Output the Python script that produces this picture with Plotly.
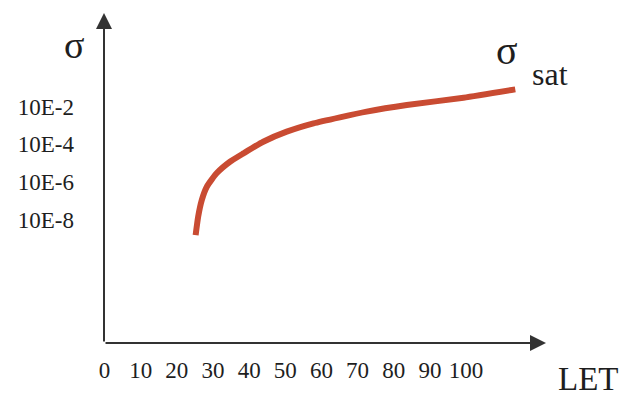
import plotly.graph_objects as go

# Single-event cross section vs LET (Weibull-like saturation curve)
let_values = [25.2, 25.9, 26.9, 28.3, 31.0, 34.7, 38.4, 43.9, 50.4, 57.8,
              65.1, 72.5, 83.6, 99.3, 113.6]
sigma_values = [1.58e-9, 1.48e-8, 1.12e-7, 5.75e-7, 2.95e-6, 1.20e-5, 3.31e-5,
                1.38e-4, 4.68e-4, 1.29e-3, 2.69e-3, 5.37e-3, 1.20e-2, 2.95e-2,
                8.13e-2]

x_ticks = [0, 10, 20, 30, 40, 50, 60, 70, 80, 90, 100]
y_tick_vals = [1e-2, 1e-4, 1e-6, 1e-8]
y_tick_text = ["10E-2", "10E-4", "10E-6", "10E-8"]

serif = "Liberation Serif, Times New Roman, serif"
ink = "#1e1e1e"
axis_col = "#333333"
curve_col = "#C94B32"

fig = go.Figure()
fig.add_trace(go.Scatter(
    x=let_values, y=sigma_values, mode="lines",
    line=dict(color=curve_col, width=6, shape="spline", smoothing=0.5),
    hoverinfo="skip", showlegend=False, cliponaxis=False,
))

fig.update_layout(
    width=627, height=399,
    margin=dict(l=104, r=81, t=13, b=56),
    paper_bgcolor="white", plot_bgcolor="white",
    xaxis=dict(
        range=[-0.14, 122.1], tickvals=x_ticks, ticks="",
        showgrid=False, zeroline=False, showline=False,
        tickfont=dict(family=serif, size=23, color=ink),
        ticklabelstandoff=11,
    ),
    yaxis=dict(
        type="log", range=[-14.51, 2.95],
        tickvals=y_tick_vals, ticktext=y_tick_text, ticks="",
        showgrid=False, zeroline=False, showline=False,
        tickfont=dict(family=serif, size=23, color=ink),
        ticklabelstandoff=29,
    ),
)

# Axis lines with arrowheads
arrow_style = dict(showarrow=True, arrowhead=2, arrowsize=1.6, arrowwidth=2,
                   arrowcolor=axis_col, text="", xref="paper", yref="paper")
fig.add_annotation(x=0, y=1, ax=0, ay=330, **arrow_style)
fig.add_annotation(x=1, y=0, ax=-442, ay=0, **arrow_style)

# Axis titles and saturation label
def px_to_paper(px, py):
    return (px - 104) / 442, 1 - (py - 13) / 330

for text, px, py, size in [("σ", 74, 45, 38), ("LET", 588, 379, 33),
                           ("σ", 507, 51, 40), ("sat", 550, 74, 32)]:
    xp, yp = px_to_paper(px, py)
    fig.add_annotation(x=xp, y=yp, xref="paper", yref="paper", text=text,
                       showarrow=False, xanchor="center", yanchor="middle",
                       font=dict(family=serif, size=size, color=ink))

fig.write_html("out.html")
